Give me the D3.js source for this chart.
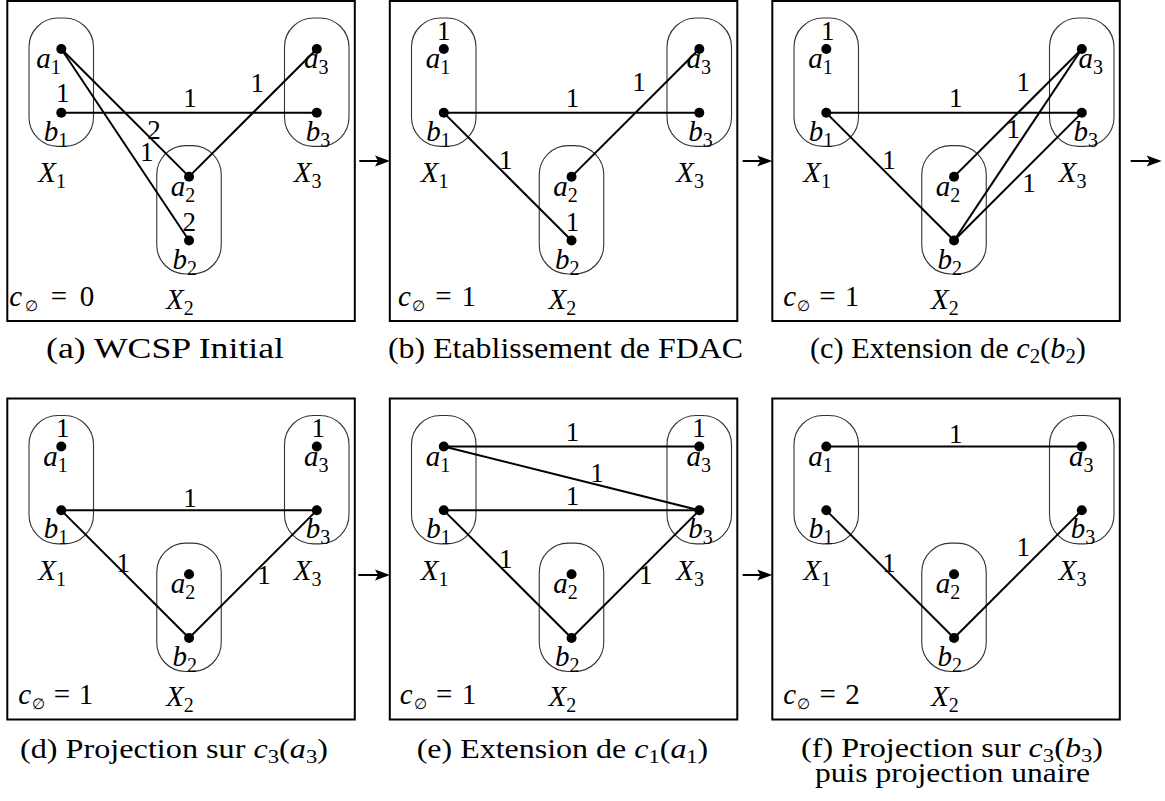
<!DOCTYPE html>
<html>
<head>
<meta charset="utf-8">
<script src="https://cdn.jsdelivr.net/npm/d3@7/dist/d3.min.js"></script>
<style>
  html, body { margin: 0; padding: 0; background: #fff; }
  svg { display: block; }
</style>
</head>
<body>
<script>
// ---------------- DATA ----------------
const panelIds = ["a", "b", "c", "d", "e", "f"];
const variables = ["X1", "X2", "X3"];
const nodeNames = ["a1", "b1", "a2", "b2", "a3", "b3"];
const nodeVar = { a1: 0, b1: 0, a2: 1, b2: 1, a3: 2, b3: 2 };
const nodeLevel = { a1: 0, b1: 1, a2: 2, b2: 3, a3: 0, b3: 1 };
const cEmpty = [0, 1, 1, 1, 1, 2];

// binary costs per panel: [from, to, weight]
const edgesA = [["a1", "a2", 2], ["a1", "b2", 1], ["b1", "b3", 1], ["a2", "a3", 1]];
const edgesB = [["b1", "b3", 1], ["b1", "b2", 1], ["a2", "a3", 1]];
const edgesC = [["b1", "b3", 1], ["b1", "b2", 1], ["a2", "a3", 1], ["b2", "a3", 1], ["b2", "b3", 1]];
const edgesD = [["b1", "b3", 1], ["b1", "b2", 1], ["b2", "b3", 1]];
const edgesE = [["a1", "a3", 1], ["a1", "b3", 1], ["b1", "b3", 1], ["b1", "b2", 1], ["b2", "b3", 1]];
const edgesF = [["a1", "a3", 1], ["b1", "b2", 1], ["b2", "b3", 1]];
const panelEdges = [edgesA, edgesB, edgesC, edgesD, edgesE, edgesF];

// unary costs per panel: [node, cost]
const unaryA = [["b1", 1], ["b2", 2]];
const unaryB = [["a1", 1], ["b2", 1]];
const unaryC = [["a1", 1]];
const unaryD = [["a1", 1], ["a3", 1]];
const unaryE = [["a3", 1]];
const unaryF = [];
const panelUnary = [unaryA, unaryB, unaryC, unaryD, unaryE, unaryF];

// captions: parts {t, i (italic), s (subscript)}
const captionA = [{ t: "(a) WCSP Initial" }];
const captionB = [{ t: "(b) Etablissement de FDAC" }];
const captionC = [{ t: "(c) Extension de " }, { t: "c", i: 1 }, { t: "2", s: 1 }, { t: "(" }, { t: "b", i: 1 }, { t: "2", s: 1 }, { t: ")" }];
const captionD = [{ t: "(d) Projection sur " }, { t: "c", i: 1 }, { t: "3", s: 1 }, { t: "(" }, { t: "a", i: 1 }, { t: "3", s: 1 }, { t: ")" }];
const captionE = [{ t: "(e) Extension de " }, { t: "c", i: 1 }, { t: "1", s: 1 }, { t: "(" }, { t: "a", i: 1 }, { t: "1", s: 1 }, { t: ")" }];
const captionF1 = [{ t: "(f) Projection sur " }, { t: "c", i: 1 }, { t: "3", s: 1 }, { t: "(" }, { t: "b", i: 1 }, { t: "3", s: 1 }, { t: ")" }];
const captionF2 = [{ t: "puis projection unaire" }];

// ---------------- LAYOUT ----------------
const W = 1165, H = 801;
const panelW = 347.5, panelH = [320, 321];
const panelX = d3.scaleLinear().domain([0, 2]).range([7.3, 772.3]);
const panelY = d3.scaleLinear().domain([0, 1]).range([1, 398.5]);
const x = d3.scaleLinear().domain([0, 2]).range([54, 309.5]);
const y = d3.scaleLinear().domain([0, 3]).range([48, 239.5]);

// edge label positions (panel-relative centre x, baseline y), same order as edges
const edgeLabelPos = [
  [[146.7, 137.8], [139.4, 159.5], [182.7, 105.5], [250, 91.2]],
  [[182.7, 105.5], [116, 167.8], [249.3, 90.2]],
  [[183.4, 105.5], [116.7, 168], [251, 90.2], [241, 137], [256.7, 191.2]],
  [[182.7, 108.8], [116, 173.2], [256.7, 185.5]],
  [[182.7, 42.5], [207.3, 83.2], [182.7, 106.5], [116, 169.8], [256, 185.5]],
  [[183.4, 44.8], [116.7, 173.2], [251, 157.5]]
];
const unaryLabelPos = [
  [[55.4, 101.2], [182, 229.5]],
  [[54, 38.8], [182.7, 229.5]],
  [[55.4, 38.8]],
  [[55.4, 38.8], [311, 38.8]],
  [[309.3, 38.8]],
  []
];
const nodeLabelDx = { a1: -18, b1: -17.5, a2: -18.3, b2: -16.6, a3: -12.7, b3: -11 };
const nodeLabelOverride = [{ a1: -25 }, {}, { a3: -3.3, b3: -8.3 }, {}, {}, {}];
const cEmptyX = [2, 8.3, 11, 11, 10, 11];
const cEmptyLen = [85, 78, 76, 75, 76.5, 76.5];
const captionSpecs = [
  { parts: captionA, x: 46, y: 358, len: 238, fs: 29 },
  { parts: captionB, x: 388, y: 358, len: 355, fs: 29 },
  { parts: captionC, x: 810, y: 358, len: 276, fs: 29 },
  { parts: captionD, x: 20, y: 758, len: 308, fs: 27 },
  { parts: captionE, x: 416.7, y: 758, len: 291.6, fs: 27 },
  { parts: captionF1, x: 801, y: 757, len: 302, fs: 27 },
  { parts: captionF2, x: 815, y: 782, len: 275, fs: 27 }
];
const arrows = [
  { x1: 359.3, x2: 390, y: 161 },
  { x1: 742.7, x2: 772.3, y: 161 },
  { x1: 1130.7, x2: 1161.7, y: 161 },
  { x1: 358.3, x2: 390, y: 575 },
  { x1: 742.7, x2: 772.3, y: 575 }
];

const FONT = "'Liberation Serif'";
const FS = 29, SUB = 20;

// ---------------- RENDER ----------------
const svg = d3.select("body").append("svg").attr("width", W).attr("height", H);

function richText(sel, parts, fs, subFs, subDy) {
  let shifted = false;
  sel.style("font-family", FONT).style("fill", "#000");
  parts.forEach(p => {
    const ts = sel.append("tspan").text(p.t)
      .style("font-family", FONT)
      .style("font-style", p.i ? "italic" : "normal")
      .style("font-size", (p.s ? subFs : fs) + "px");
    if (p.s && !shifted) { ts.attr("dy", subDy); shifted = true; }
    else if (!p.s && shifted) { ts.attr("dy", -subDy); shifted = false; }
  });
  return sel;
}

function plainText(g, px, py, str, fs) {
  return g.append("text").attr("x", px).attr("y", py)
    .attr("text-anchor", "middle")
    .style("font-family", FONT).style("font-size", fs + "px").style("fill", "#000")
    .text(str);
}

panelIds.forEach((pid, i) => {
  const col = i % 3, row = Math.floor(i / 3);
  const g = svg.append("g").attr("transform", `translate(${panelX(col)},${panelY(row)})`);

  // domain ovals
  variables.forEach((v, vi) => {
    const members = nodeNames.filter(n => nodeVar[n] === vi);
    const ys = members.map(n => y(nodeLevel[n]));
    const top = d3.min(ys) - 31, bot = d3.max(ys) + 33.5;
    g.append("rect")
      .attr("x", x(vi) - 32.3).attr("y", top)
      .attr("width", 64.5).attr("height", bot - top)
      .attr("rx", 29).attr("ry", 29)
      .attr("fill", "none").attr("stroke", "#333").attr("stroke-width", 1.1);
  });

  // edges
  g.selectAll("line.edge").data(panelEdges[i]).join("line")
    .attr("class", "edge")
    .attr("x1", d => x(nodeVar[d[0]])).attr("y1", d => y(nodeLevel[d[0]]))
    .attr("x2", d => x(nodeVar[d[1]])).attr("y2", d => y(nodeLevel[d[1]]))
    .attr("stroke", "#000").attr("stroke-width", 2);

  // dots
  g.selectAll("circle").data(nodeNames).join("circle")
    .attr("cx", d => x(nodeVar[d])).attr("cy", d => y(nodeLevel[d]))
    .attr("r", 5).attr("fill", "#000");

  // node labels
  nodeNames.forEach(n => {
    const dx = (nodeLabelOverride[i][n] !== undefined) ? nodeLabelOverride[i][n] : nodeLabelDx[n];
    const t = g.append("text")
      .attr("x", x(nodeVar[n]) + dx)
      .attr("y", y(nodeLevel[n]) + (n[0] === "a" ? 19 : 28));
    richText(t, [{ t: n[0], i: 1 }, { t: n[1], s: 1 }], FS, SUB, 6);
  });

  // variable labels
  variables.forEach((v, vi) => {
    const t = g.append("text")
      .attr("x", x(vi) - 23)
      .attr("y", vi === 1 ? 307.5 : 181);
    richText(t, [{ t: "X", i: 1 }, { t: v[1], s: 1 }], FS, SUB, 6);
  });

  // edge weights
  panelEdges[i].forEach((e, k) => {
    const p = edgeLabelPos[i][k];
    plainText(g, p[0], p[1], e[2], 27);
  });

  // unary costs
  panelUnary[i].forEach((u, k) => {
    const p = unaryLabelPos[i][k];
    plainText(g, p[0], p[1], u[1], 27);
  });

  // c_empty
  const ct = g.append("text").attr("x", cEmptyX[i]).attr("y", 305)
    .attr("textLength", cEmptyLen[i]).attr("lengthAdjust", "spacing");
  richText(ct, [{ t: "c", i: 1 }, { t: "\u2205", s: 1 }, { t: " = " + cEmpty[i] }], FS, 15, 5);

  // frame
  g.append("rect").attr("x", 0).attr("y", 0)
    .attr("width", panelW).attr("height", panelH[row])
    .attr("fill", "none").attr("stroke", "#000").attr("stroke-width", 2);
});

// arrows between panels
arrows.forEach(a => {
  svg.append("line").attr("x1", a.x1).attr("x2", a.x2 - 12).attr("y1", a.y).attr("y2", a.y)
    .attr("stroke", "#000").attr("stroke-width", 2);
  svg.append("path")
    .attr("d", `M${a.x2},${a.y} L${a.x2 - 15},${a.y - 5.5} L${a.x2 - 12},${a.y} L${a.x2 - 15},${a.y + 5.5} Z`)
    .attr("fill", "#000");
});

// captions
captionSpecs.forEach(c => {
  const t = svg.append("text").attr("x", c.x).attr("y", c.y)
    .attr("textLength", c.len).attr("lengthAdjust", "spacingAndGlyphs");
  richText(t, c.parts, c.fs, Math.round(c.fs * 0.7), 5);
});
</script>
</body>
</html>
